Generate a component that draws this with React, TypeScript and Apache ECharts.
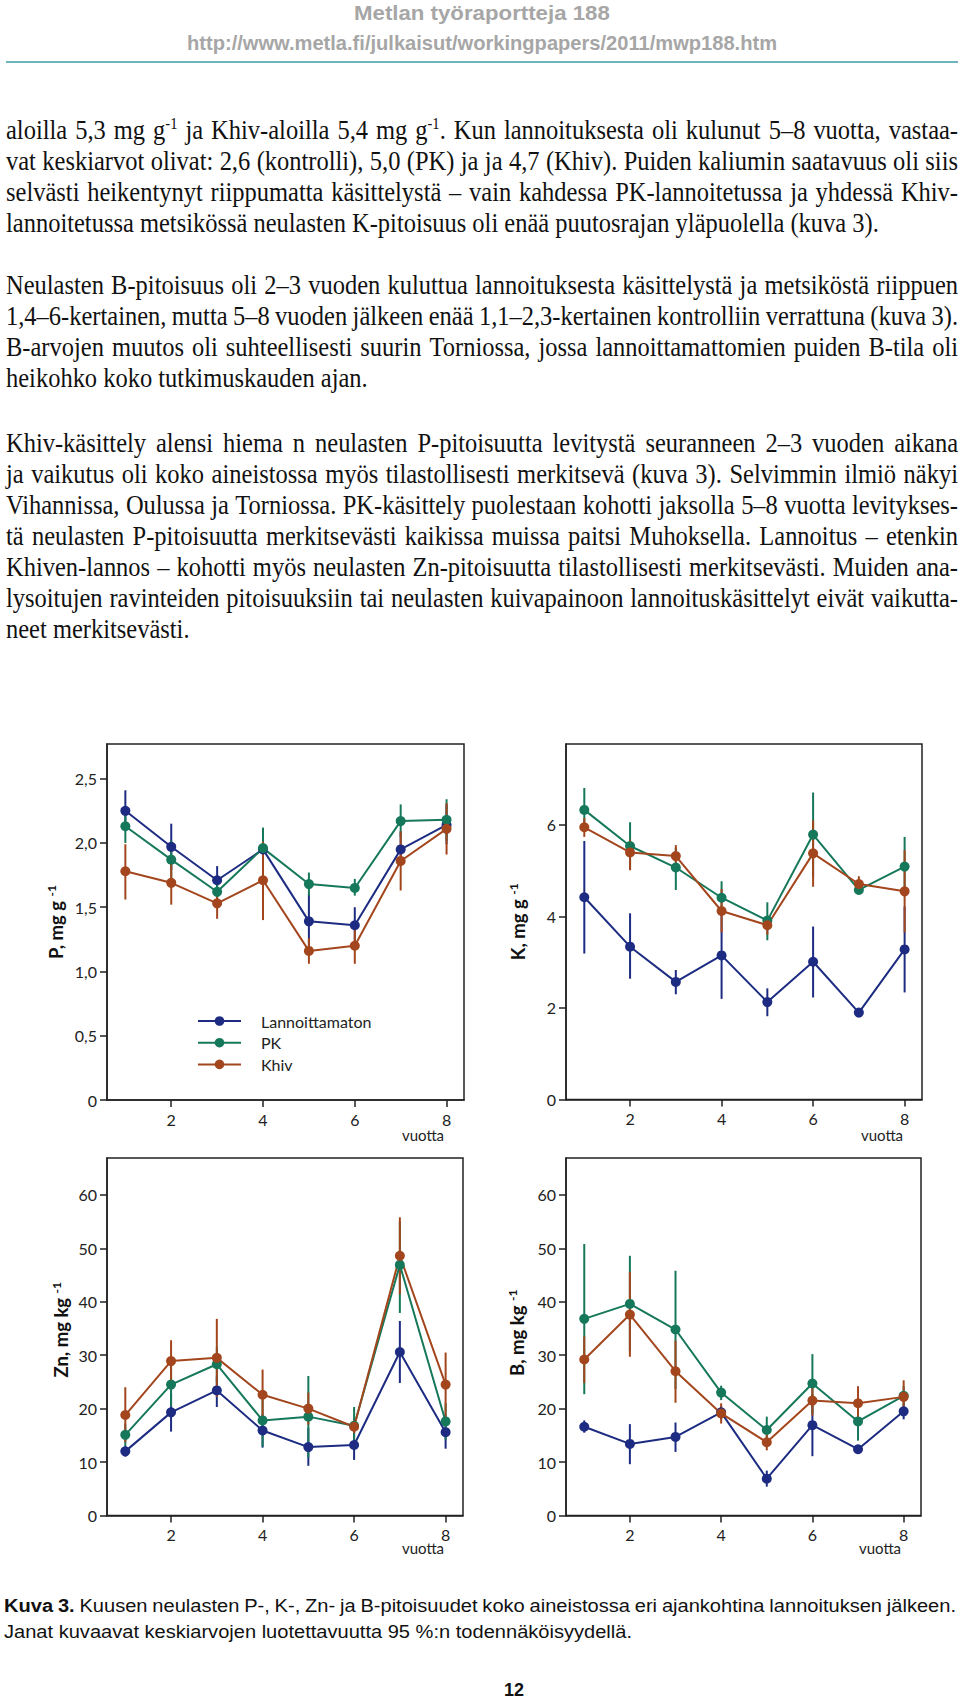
import React, { useEffect, useRef } from "react";
import * as echarts from "echarts";

// ---------------- DATA ----------------
const YEARS = [1, 2, 3, 4, 5, 6, 7, 8];
const TREATMENTS = ["Lannoittamaton", "PK", "Khiv"];
const COLORS = ["#1d2c82", "#16785a", "#a3461d"];
const X_TICKS = [2, 4, 6, 8];

// P, mg g-1
const P_TICKS = [0, 0.5, 1, 1.5, 2, 2.5];
const P_CONTROL = [2.25, 1.97, 1.71, 1.95, 1.39, 1.36, 1.95, 2.14];
const P_CONTROL_CI = [[2.10, 2.41], [1.79, 2.15], [1.60, 1.82], [1.79, 2.11], [1.17, 1.60], [1.22, 1.50], [1.82, 2.09], [1.99, 2.30]];
const P_PK = [2.13, 1.87, 1.62, 1.96, 1.68, 1.65, 2.17, 2.18];
const P_PK_CI = [[2.00, 2.27], [1.72, 2.02], [1.57, 1.68], [1.79, 2.12], [1.59, 1.77], [1.59, 1.72], [2.05, 2.30], [2.02, 2.34]];
const P_KHIV = [1.78, 1.69, 1.53, 1.71, 1.16, 1.20, 1.86, 2.11];
const P_KHIV_CI = [[1.56, 1.99], [1.52, 1.85], [1.41, 1.64], [1.40, 2.01], [1.06, 1.26], [1.06, 1.33], [1.63, 2.09], [1.91, 2.31]];

// K, mg g-1
const K_TICKS = [0, 2, 4, 6];
const K_CONTROL = [4.42, 3.34, 2.57, 3.15, 2.13, 3.01, 1.90, 3.28];
const K_CONTROL_CI = [[3.19, 5.65], [2.64, 4.07], [2.30, 2.83], [2.20, 4.10], [1.82, 2.43], [2.23, 3.78], [1.80, 1.99], [2.34, 4.22]];
const K_PK = [6.33, 5.54, 5.07, 4.41, 3.91, 5.79, 4.58, 5.09];
const K_PK_CI = [[5.85, 6.81], [5.02, 6.06], [4.58, 5.50], [4.05, 4.77], [3.48, 4.31], [4.87, 6.71], [4.50, 4.66], [4.44, 5.74]];
const K_KHIV = [5.95, 5.40, 5.32, 4.12, 3.81, 5.38, 4.71, 4.55];
const K_KHIV_CI = [[5.74, 6.15], [5.01, 5.68], [5.08, 5.56], [3.65, 4.60], [3.60, 4.00], [4.65, 6.10], [4.54, 4.88], [3.65, 5.45]];

// Zn, mg kg-1
const ZN_TICKS = [0, 10, 20, 30, 40, 50, 60];
const ZN_CONTROL = [12.0, 19.3, 23.4, 15.9, 12.8, 13.2, 30.6, 15.6];
const ZN_CONTROL_CI = [[11.0, 13.0], [15.7, 22.9], [20.3, 26.0], [12.7, 18.9], [9.3, 16.4], [10.4, 16.0], [24.8, 36.4], [12.5, 18.8]];
const ZN_PK = [15.1, 24.5, 28.3, 17.8, 18.5, 16.8, 46.9, 17.6];
const ZN_PK_CI = [[13.0, 17.2], [20.4, 28.5], [25.0, 31.5], [12.9, 22.6], [10.8, 26.1], [13.3, 20.3], [37.9, 55.0], [14.2, 21.0]];
const ZN_KHIV = [18.8, 28.9, 29.5, 22.6, 20.0, 16.6, 48.6, 24.5];
const ZN_KHIV_CI = [[13.7, 24.0], [25.0, 32.8], [22.2, 36.8], [18.0, 27.3], [17.0, 23.0], [15.4, 17.8], [41.4, 55.8], [18.4, 30.5]];

// B, mg kg-1
const B_TICKS = [0, 10, 20, 30, 40, 50, 60];
const B_CONTROL = [16.6, 13.4, 14.7, 19.3, 6.9, 16.9, 12.4, 19.5];
const B_CONTROL_CI = [[15.5, 17.8], [9.6, 17.1], [11.9, 17.4], [18.0, 20.5], [5.4, 8.4], [11.1, 22.7], [11.8, 13.0], [18.0, 21.0]];
const B_PK = [36.8, 39.6, 34.8, 23.0, 16.0, 24.7, 17.6, 22.4];
const B_PK_CI = [[22.7, 50.8], [30.7, 48.6], [23.7, 45.8], [21.6, 24.3], [13.5, 18.5], [19.1, 30.2], [14.0, 21.0], [20.5, 24.2]];
const B_KHIV = [29.2, 37.6, 27.0, 19.1, 13.7, 21.5, 21.0, 22.2];
const B_KHIV_CI = [[24.8, 33.5], [29.7, 45.6], [21.1, 32.7], [17.2, 21.0], [12.2, 15.2], [18.7, 24.2], [17.7, 24.2], [19.1, 25.3]];

// ---------------- TEXTS ----------------
const HEADER_TITLE = "Metlan työraportteja 188";
const HEADER_URL = "http://www.metla.fi/julkaisut/workingpapers/2011/mwp188.htm";

const PARA_1 = [
  "aloilla 5,3 mg g{sup|-1} ja Khiv-aloilla 5,4 mg g{sup|-1}. Kun lannoituksesta oli kulunut 5–8 vuotta, vastaa-",
  "vat keskiarvot olivat: 2,6 (kontrolli), 5,0 (PK) ja ja 4,7 (Khiv). Puiden kaliumin saatavuus oli siis",
  "selvästi heikentynyt riippumatta käsittelystä – vain kahdessa PK-lannoitetussa ja yhdessä Khiv-",
  "lannoitetussa metsikössä neulasten K-pitoisuus oli enää puutosrajan yläpuolella (kuva 3).",
];
const PARA_2 = [
  "Neulasten B-pitoisuus oli 2–3 vuoden kuluttua lannoituksesta käsittelystä ja metsiköstä riippuen",
  "1,4–6-kertainen, mutta 5–8 vuoden jälkeen enää 1,1–2,3-kertainen kontrolliin verrattuna (kuva 3).",
  "B-arvojen muutos oli suhteellisesti suurin Torniossa, jossa lannoittamattomien puiden B-tila oli",
  "heikohko koko tutkimuskauden ajan.",
];
const PARA_3 = [
  "Khiv-käsittely alensi hiema n neulasten P-pitoisuutta levitystä seuranneen 2–3 vuoden aikana",
  "ja vaikutus oli koko aineistossa myös tilastollisesti merkitsevä (kuva 3). Selvimmin ilmiö näkyi",
  "Vihannissa, Oulussa ja Torniossa. PK-käsittely puolestaan kohotti jaksolla 5–8 vuotta levitykses-",
  "tä neulasten P-pitoisuutta merkitsevästi kaikissa muissa paitsi Muhoksella. Lannoitus – etenkin",
  "Khiven-lannos – kohotti myös neulasten Zn-pitoisuutta tilastollisesti merkitsevästi. Muiden ana-",
  "lysoitujen ravinteiden pitoisuuksiin tai neulasten kuivapainoon lannoituskäsittelyt eivät vaikutta-",
  "neet merkitsevästi.",
];
const CAPTION_BOLD = "Kuva 3.";
const CAPTION_LINES = [
  "Kuusen neulasten P-, K-, Zn- ja B-pitoisuudet koko aineistossa eri ajankohtina lannoituksen jälkeen.",
  "Janat kuvaavat keskiarvojen luotettavuutta 95 %:n todennäköisyydellä.",
];
const PAGE_NUMBER = "12";
const X_NAME = "vuotta";

// ---------------- LAYOUT ----------------
const SERIF = '"Liberation Serif", "Times New Roman", serif';
const SANS = '"Liberation Sans", Arial, Helvetica, sans-serif';
const CHART_FONT = 'Lato, "Open Sans", sans-serif';

const CHARTS = [
  { grid: { left: 107, top: 744, width: 357, height: 356 }, max: 2.77, ticks: P_TICKS, dec: 1, name: "P, mg g {sup|-1}", nameGap: 40, namePad: 0, xName: [423, 1135],
    means: [P_CONTROL, P_PK, P_KHIV], cis: [P_CONTROL_CI, P_PK_CI, P_KHIV_CI] },
  { grid: { left: 566, top: 744, width: 356, height: 355.5 }, max: 7.77, ticks: K_TICKS, dec: 0, name: "K, mg g {sup|-1}", nameGap: 37, namePad: 0, xName: [882, 1135],
    means: [K_CONTROL, K_PK, K_KHIV], cis: [K_CONTROL_CI, K_PK_CI, K_KHIV_CI] },
  { grid: { left: 107, top: 1158, width: 356, height: 357.5 }, max: 66.9, ticks: ZN_TICKS, dec: 0, name: "Zn, mg kg {sup|-1}", nameGap: 35, namePad: 14, xName: [423, 1548],
    means: [ZN_CONTROL, ZN_PK, ZN_KHIV], cis: [ZN_CONTROL_CI, ZN_PK_CI, ZN_KHIV_CI] },
  { grid: { left: 566, top: 1158, width: 355, height: 357.5 }, max: 66.9, ticks: B_TICKS, dec: 0, name: "B, mg kg {sup|-1}", nameGap: 38, namePad: 8, xName: [880, 1548],
    means: [B_CONTROL, B_PK, B_KHIV], cis: [B_CONTROL_CI, B_PK_CI, B_KHIV_CI] },
];

type Tok = { t: string; b?: boolean };
type St = { size: number; family: string; supSize: number; lh: number; fill: string };

function makeMeasure() {
  const ctx = document.createElement("canvas").getContext("2d") as CanvasRenderingContext2D;
  return (text: string, font: string) => {
    ctx.font = font;
    return ctx.measureText(text).width;
  };
}

function buildGraphics() {
  const measure = makeMeasure();
  const els: any[] = [];
  const fontOf = (st: St, bold?: boolean, size?: number) => `${bold ? "bold " : ""}${size ?? st.size}px ${st.family}`;
  const wordW = (tok: Tok, st: St) => {
    const re = /\{sup\|([^}]*)\}/g;
    let total = 0, last = 0, m: RegExpExecArray | null;
    while ((m = re.exec(tok.t))) {
      total += measure(tok.t.slice(last, m.index), fontOf(st, tok.b));
      total += measure(m[1], fontOf(st, tok.b, st.supSize));
      last = re.lastIndex;
    }
    total += measure(tok.t.slice(last), fontOf(st, tok.b));
    return total;
  };
  const spaceW = (st: St) => measure(" ", fontOf(st));
  const naturalW = (toks: Tok[], st: St) =>
    toks.reduce((a, t) => a + wordW(t, st), 0) + spaceW(st) * (toks.length - 1);
  const toks = (line: string): Tok[] => line.split(" ").filter(Boolean).map((t) => ({ t }));

  const putWord = (tok: Tok, x: number, y: number, s: number, st: St) => {
    els.push({
      type: "text", x, y, scaleX: s, silent: true,
      style: {
        text: tok.t, fontSize: st.size, fontFamily: st.family, fontWeight: tok.b ? "bold" : "normal",
        fill: st.fill, align: "left", textAlign: "left", verticalAlign: "middle", textVerticalAlign: "middle",
        lineHeight: st.lh,
        rich: { sup: { fontSize: st.supSize, fontFamily: st.family, fill: st.fill, lineHeight: st.supSize, verticalAlign: "top" } },
      },
    });
  };

  const placeLine = (tks: Tok[], y: number, left: number, right: number | null, s: number, st: St) => {
    const ws = tks.map((t) => wordW(t, st));
    const sum = ws.reduce((a, b) => a + b, 0);
    let sl = s;
    let gap = spaceW(st) * s;
    if (right !== null && tks.length > 1) {
      const minGap = spaceW(st) * s * 0.35;
      gap = (right - left - sum * s) / (tks.length - 1);
      if (gap < minGap) {
        gap = minGap;
        sl = (right - left - minGap * (tks.length - 1)) / sum;
      }
    }
    let x = left;
    tks.forEach((t, i) => {
      putWord(t, x, y, sl, st);
      x += ws[i] * sl + gap;
    });
  };

  // header
  const hst: St = { size: 19.5, family: SANS, supSize: 12, lh: 22, fill: "#a6a6a6" };
  [[HEADER_TITLE, 13.5, 256], [HEADER_URL, 43.5, 590]].forEach(([txt, y, target]) => {
    const w = measure(txt as string, fontOf(hst, true));
    let s = (target as number) / w;
    s = Math.max(0.85, Math.min(1.15, s));
    els.push({
      type: "text", x: 482 - (w * s) / 2, y: y as number, scaleX: s, silent: true,
      style: { text: txt, fontSize: hst.size, fontFamily: SANS, fontWeight: "bold", fill: hst.fill, align: "left", textAlign: "left", verticalAlign: "middle", textVerticalAlign: "middle" },
    });
  });
  els.push({ type: "line", silent: true, shape: { x1: 6, y1: 62, x2: 958, y2: 62 }, style: { stroke: "#3f9ba3", lineWidth: 1.6 } });

  // body text
  const bst: St = { size: 27, family: SERIF, supSize: 16, lh: 30, fill: "#111" };
  const L = 6, R = 958;
  const paras = [
    { lines: PARA_1, y0: 130, lastEnd: 880 },
    { lines: PARA_2, y0: 285, lastEnd: 368 },
    { lines: PARA_3, y0: 442.7, lastEnd: 188 },
  ];
  let tgt = 0, nat = 0;
  paras.forEach((p) => {
    tgt += p.lastEnd - L;
    nat += naturalW(toks(p.lines[p.lines.length - 1]), bst);
  });
  const sBody = tgt / nat;
  paras.forEach((p) => {
    p.lines.forEach((line, i) => {
      const isLast = i === p.lines.length - 1;
      placeLine(toks(line), p.y0 + i * 31.1, L, isLast ? null : R, sBody, bst);
    });
  });

  // caption
  const cst: St = { size: 18.5, family: SANS, supSize: 12, lh: 22, fill: "#111" };
  const cap1: Tok[] = [...CAPTION_BOLD.split(" ").map((t) => ({ t, b: true })), ...toks(CAPTION_LINES[0])];
  const cap2 = toks(CAPTION_LINES[1]);
  const sCap = (632 - 4) / naturalW(cap2, cst);
  placeLine(cap1, 1606, 4, 956, sCap, cst);
  placeLine(cap2, 1632, 4, null, sCap, cst);

  // page number
  els.push({
    type: "text", x: 514, y: 1690, silent: true,
    style: { text: PAGE_NUMBER, fontSize: 18, fontFamily: SANS, fontWeight: "bold", fill: "#111", align: "center", textAlign: "center", verticalAlign: "middle", textVerticalAlign: "middle" },
  });

  // x-axis unit labels
  CHARTS.forEach((c) => {
    els.push({
      type: "text", x: c.xName[0], y: c.xName[1], silent: true,
      style: { text: X_NAME, fontSize: 15, fontFamily: CHART_FONT, fill: "#222", align: "center", textAlign: "center", verticalAlign: "middle", textVerticalAlign: "middle" },
    });
  });
  return els;
}

function buildOption() {
  const grids: any[] = [];
  const xAxes: any[] = [];
  const yAxes: any[] = [];
  const series: any[] = [];
  const axisLine = { show: true, onZero: false, lineStyle: { color: "#222", width: 1.5 } };
  CHARTS.forEach((c, gi) => {
    grids.push({ ...c.grid, show: true, borderColor: "#222", borderWidth: 1.5, backgroundColor: "transparent", containLabel: false, outerBoundsMode: "none" });
    xAxes.push({
      type: "value", gridIndex: gi, min: 0.6, max: 8.38,
      splitLine: { show: false }, axisLine,
      axisTick: { show: true, length: 7, lineStyle: { color: "#222", width: 1.5 }, customValues: X_TICKS },
      axisLabel: { customValues: X_TICKS, fontFamily: CHART_FONT, fontSize: 16, color: "#222", margin: 11 },
    });
    yAxes.push({
      type: "value", gridIndex: gi, min: 0, max: c.max,
      splitLine: { show: false }, axisLine,
      axisTick: { show: true, length: 7, lineStyle: { color: "#222", width: 1.5 }, customValues: c.ticks },
      axisLabel: {
        customValues: c.ticks, fontFamily: CHART_FONT, fontSize: 16, color: "#222", margin: 10,
        formatter: (v: number) => (v === 0 ? "0" : v.toFixed(c.dec).replace(".", ",")),
      },
      name: c.name, nameLocation: "middle", nameGap: c.nameGap,
      nameTextStyle: {
        fontFamily: CHART_FONT, fontWeight: "bold", fontSize: 18.5, color: "#111", lineHeight: 22,
        padding: [0, 0, 0, c.namePad],
        rich: { sup: { fontFamily: CHART_FONT, fontWeight: "bold", fontSize: 12, color: "#111", lineHeight: 12, verticalAlign: "top" } },
      },
    });
    TREATMENTS.forEach((name, ti) => {
      const color = COLORS[ti];
      series.push({
        type: "custom", name: name + " CI", xAxisIndex: gi, yAxisIndex: gi, z: 2, silent: true,
        data: YEARS.map((x, k) => [x, c.cis[ti][k][0], c.cis[ti][k][1]]),
        encode: { x: 0, y: [1, 2] },
        renderItem: (_p: any, api: any) => {
          const a = api.coord([api.value(0), api.value(1)]);
          const b = api.coord([api.value(0), api.value(2)]);
          return { type: "line", shape: { x1: a[0], y1: a[1], x2: b[0], y2: b[1] }, style: { stroke: color, lineWidth: 2 } };
        },
      });
    });
    TREATMENTS.forEach((name, ti) => {
      const color = COLORS[ti];
      series.push({
        type: "line", name, xAxisIndex: gi, yAxisIndex: gi, z: 3,
        data: YEARS.map((x, k) => [x, c.means[ti][k]]),
        symbol: "circle", symbolSize: 10, showSymbol: true,
        lineStyle: { color, width: 2 }, itemStyle: { color },
        emphasis: { disabled: true },
      });
    });
  });
  return {
    animation: false,
    backgroundColor: "#ffffff",
    grid: grids,
    xAxis: xAxes,
    yAxis: yAxes,
    series,
    legend: {
      data: TREATMENTS, left: 197, top: 1013, orient: "vertical", padding: 0,
      itemWidth: 43, itemHeight: 12, itemGap: 5.7, selectedMode: false,
      textStyle: { fontFamily: CHART_FONT, fontSize: 16, color: "#222", padding: [0, 0, 0, 15], lineHeight: 16 },
    },
    graphic: { elements: buildGraphics() },
  };
}

export default function App() {
  const ref = useRef<HTMLDivElement>(null);
  useEffect(() => {
    if (!ref.current) return;
    const chart = echarts.init(ref.current, null, { renderer: "svg" });
    chart.setOption(buildOption() as any);
    return () => chart.dispose();
  }, []);
  return (
    <div
      ref={ref}
      style={{ position: "absolute", left: 0, top: 0, width: 960, height: 1699, background: "#fff" }}
    />
  );
}
